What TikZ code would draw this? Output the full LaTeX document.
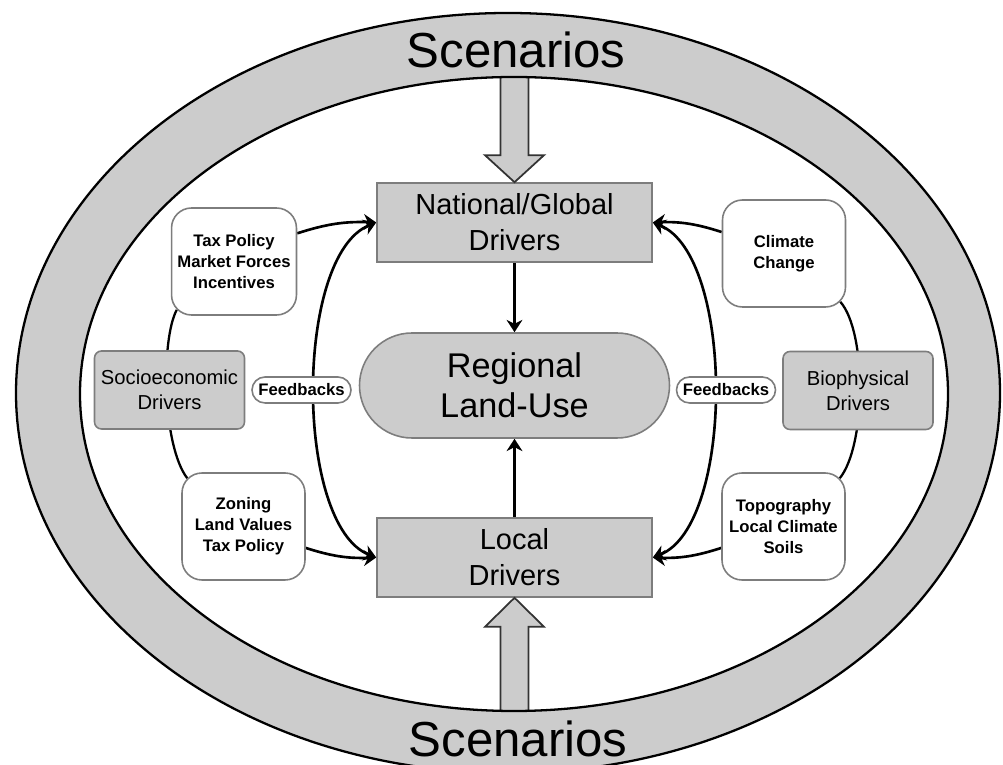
\documentclass[tikz,border=0pt]{standalone}
\usepackage{fontspec}
\setmainfont{Liberation Sans}
\usetikzlibrary{arrows.meta,calc,backgrounds}
\definecolor{ringgray}{RGB}{204,204,204}
\definecolor{rim}{RGB}{125,125,125}

\begin{document}
\begin{tikzpicture}[>={Stealth[length=7pt,width=9pt]}]
\tikzstyle{drvbox}=[draw=rim,fill=ringgray,line width=0.9pt,minimum width=5.5cm,minimum height=1.58cm,align=center,font=\fontsize{16.5}{20.5}\selectfont]
\tikzstyle{sidebox}=[draw=rim,fill=ringgray,line width=0.9pt,rounded corners=4pt,minimum width=3cm,minimum height=1.56cm,align=center,font=\fontsize{11.5}{14}\selectfont]
\tikzstyle{bubble}=[draw=rim,fill=white,line width=0.9pt,rounded corners=0.4cm,minimum width=2.46cm,minimum height=2.14cm,align=center,font=\fontsize{9.5}{12}\selectfont\bfseries]
\tikzstyle{fback}=[draw=rim,fill=white,line width=0.9pt,rounded corners=0.26cm,minimum width=1.98cm,minimum height=0.52cm,inner sep=0pt,font=\fontsize{9.5}{11}\selectfont\bfseries]
\tikzstyle{conn}=[->,line width=1.5pt]
\tikzstyle{blockarr}=[draw=black!80,fill=ringgray,line width=1pt]
\clip (0,0) rectangle (20.06,15.3);

\node[drvbox] (nat) at (10.29,10.85) {National/Global\\Drivers};
\node[drvbox] (loc) at (10.29,4.15) {Local\\Drivers};
\node[drvbox,minimum width=6.2cm,minimum height=2.1cm,rounded corners=1.05cm,font=\fontsize{19.5}{23}\selectfont] (reg) at (10.29,7.59) {Regional\\Land-Use};
\node[sidebox] (soc) at (3.39,7.5) {Socioeconomic\\Drivers};
\node[sidebox] (bio) at (17.16,7.49) {Biophysical\\Drivers};
\node[bubble] (tax) at (4.68,10.07) {Tax Policy\\Market Forces\\Incentives};
\node[bubble] (zon) at (4.87,4.77) {Zoning\\Land Values\\Tax Policy};
\node[bubble] (clim) at (15.68,10.23) {Climate\\Change};
\node[bubble] (topo) at (15.67,4.77) {Topography\\Local Climate\\Soils};

% scenario arrows, tails hidden under the ring
\draw[blockarr] (nat.north) -- ++(0.59,0.54) -- ++(-0.31,0) -- ++(0,1.82) -- ++(-0.56,0) -- ++(0,-1.82) -- ++(-0.31,0) -- cycle;
\draw[blockarr] (loc.south) -- ++(0.59,-0.58) -- ++(-0.31,0) -- ++(0,-1.9) -- ++(-0.56,0) -- ++(0,1.9) -- ++(-0.31,0) -- cycle;

% scenario ring
\fill[ringgray,even odd rule] (10.16,7.44) ellipse [x radius=9.84,y radius=7.6] (10.28,7.42) ellipse [x radius=8.68,y radius=6.34];
\draw[line width=1.3pt] (10.16,7.44) ellipse [x radius=9.84,y radius=7.6] (10.28,7.42) ellipse [x radius=8.68,y radius=6.34];
\node[anchor=base,font=\fontsize{28}{30}\selectfont] (scTop) at (10.32,13.94) {Scenarios};
\node[anchor=base,font=\fontsize{28}{30}\selectfont] (scBot) at (10.36,0.16) {Scenarios};

\begin{scope}[on background layer]
\draw[line width=1.3pt] ($(tax.south west)+(0.12,0.12)$) .. controls +(-0.32,-0.6) and +(-0.5,0.66) .. ($(zon.north west)+(0.12,-0.12)$);
\draw[line width=1.3pt] ($(clim.south east)+(-0.12,0.12)$) .. controls +(0.53,-0.6) and +(0.53,0.66) .. ($(topo.north east)+(-0.12,-0.12)$);
\draw[conn] (nat) -- (reg);
\draw[conn] (loc) -- (reg);
\draw[conn] (tax.24) to[bend left=10] (nat.west);
\draw[conn] (zon.-19) to[bend right=10] (loc.west);
\draw[conn] (clim.161) to[bend right=10] (nat.east);
\draw[conn] (topo.199) to[bend left=10] (loc.east);
\draw[conn,<->] (nat.west) .. controls +(-1.64,-0.66) and +(-1.64,0.64) .. (loc.west);
\draw[conn,<->] (nat.east) .. controls +(1.64,-0.66) and +(1.64,0.64) .. (loc.east);
\end{scope}
\node[fback] (fbL) at (6.03,7.5) {Feedbacks};
\node[fback] (fbR) at (14.52,7.5) {Feedbacks};
\end{tikzpicture}
\end{document}
